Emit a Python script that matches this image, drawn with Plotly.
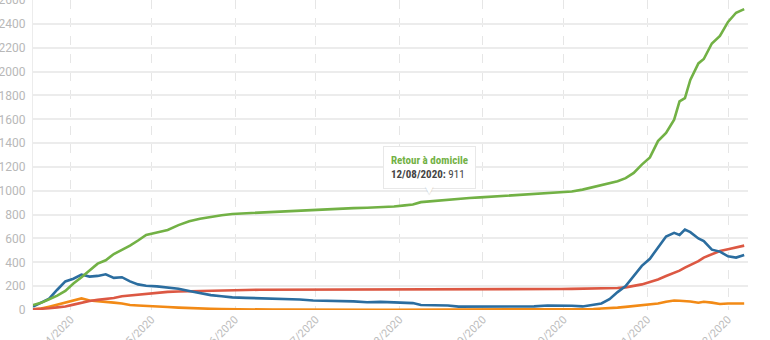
import plotly.graph_objects as go

dates = ["2020-03-18", "2020-03-21", "2020-03-24", "2020-03-27", "2020-03-30",
         "2020-04-02", "2020-04-05", "2020-04-08", "2020-04-11", "2020-04-14",
         "2020-04-17", "2020-04-20", "2020-04-23", "2020-04-26", "2020-04-29",
         "2020-05-03", "2020-05-07", "2020-05-11", "2020-05-15", "2020-05-19",
         "2020-05-23", "2020-05-27", "2020-05-31", "2020-06-05", "2020-06-10",
         "2020-06-15", "2020-06-20", "2020-06-25", "2020-06-30", "2020-07-05",
         "2020-07-10", "2020-07-15", "2020-07-20", "2020-07-25", "2020-07-30",
         "2020-08-03", "2020-08-06", "2020-08-09", "2020-08-12", "2020-08-15",
         "2020-08-19", "2020-08-23", "2020-08-27", "2020-08-31", "2020-09-05",
         "2020-09-10", "2020-09-15", "2020-09-20", "2020-09-25", "2020-09-30",
         "2020-10-04", "2020-10-08", "2020-10-12", "2020-10-15", "2020-10-18",
         "2020-10-21", "2020-10-24", "2020-10-27", "2020-10-30", "2020-11-02",
         "2020-11-05", "2020-11-08", "2020-11-11", "2020-11-13", "2020-11-15",
         "2020-11-17", "2020-11-20", "2020-11-22", "2020-11-25", "2020-11-28",
         "2020-12-01", "2020-12-04", "2020-12-07"]

retour_domicile = [42, 60, 90, 120, 160, 222, 275, 330, 389, 417, 470, 505, 540, 583, 630,
                   650, 672, 712, 745, 765, 783, 795, 806, 812, 818, 822, 826, 832, 840, 845,
                   850, 855, 858, 862, 868, 878, 885, 905, 911, 918, 928, 935, 940, 945, 952,
                   958, 965, 972, 978, 986, 994, 1010, 1030, 1045, 1060, 1080, 1106, 1150, 1220, 1280,
                   1417, 1486, 1597, 1750, 1778, 1931, 2069, 2106, 2236, 2300, 2417, 2494, 2525]

hospitalisations = [28, 60, 95, 170, 240, 262, 297, 280, 286, 300, 270, 275, 240, 215, 203,
                    198, 188, 178, 160, 140, 125, 115, 106, 102, 100, 98, 95, 88, 80, 78,
                    75, 72, 65, 68, 64, 60, 58, 42, 42, 40, 38, 28, 28, 30, 33,
                    28, 28, 30, 38, 40, 36, 30, 45, 55, 90, 150, 200, 290, 370, 430,
                    528, 617, 647, 630, 675, 653, 600, 578, 506, 490, 450, 440, 462]

deces = [5, 8, 15, 22, 30, 45, 62, 75, 85, 92, 100, 115, 122, 132, 139,
         146, 152, 155, 158, 161, 163, 165, 167, 168, 170, 170, 171, 171, 172, 172,
         172, 173, 173, 173, 173, 173, 173, 174, 174, 174, 174, 174, 174, 175, 175,
         175, 175, 175, 175, 176, 177, 178, 179, 180, 182, 185, 190, 200, 215, 235,
         256, 285, 311, 330, 355, 375, 410, 440, 470, 495, 510, 525, 540]

reanimation = [5, 12, 28, 45, 65, 83, 97, 80, 76, 69, 62, 55, 42, 38, 33,
               28, 25, 20, 15, 14, 10, 8, 6, 5, 4, 3, 3, 2, 2, 2,
               2, 2, 2, 2, 2, 2, 2, 2, 2, 2, 2, 2, 2, 2, 2,
               2, 2, 2, 2, 2, 2, 4, 8, 12, 14, 20, 26, 32, 38, 45,
               55, 70, 80, 78, 75, 72, 61, 69, 62, 50, 54, 55, 55]

tick_dates = ["2020-04-01", "2020-05-01", "2020-06-01", "2020-07-01", "2020-08-01",
              "2020-09-01", "2020-10-01", "2020-11-01", "2020-12-01"]
tick_labels = ["01/04/2020", "01/05/2020", "01/06/2020", "01/07/2020", "01/08/2020",
               "01/09/2020", "01/10/2020", "01/11/2020", "01/12/2020"]

series = [
    ("Réanimation", reanimation, "#f28a16"),
    ("Décès", deces, "#dc5843"),
    ("Hospitalisations", hospitalisations, "#2b6d9f"),
    ("Retour à domicile", retour_domicile, "#72b145"),
]

fig = go.Figure()
for name, vals, col in series:
    fig.add_trace(go.Scatter(x=dates, y=vals, mode="lines", name=name,
                             line=dict(color=col, width=2.6)))

# tooltip
idx = dates.index("2020-08-12")
d = dates[idx]
label_date = f"{d[8:10]}/{d[5:7]}/{d[0:4]}"
tip_font = "Roboto Condensed, Liberation Sans Narrow, Roboto"
fig.add_annotation(
    x=d, y=retour_domicile[idx], xref="x", yref="y",
    text=f"<b><span style='color:#72b145'>Retour à domicile</span></b><br><b>{label_date}:</b> {retour_domicile[idx]}",
    showarrow=False, yanchor="bottom", yshift=12, align="left",
    bgcolor="white", bordercolor="#e8e8e8", borderwidth=1, borderpad=7,
    font=dict(family=tip_font, size=11, color="#444"),
)
fig.add_annotation(
    x=d, y=retour_domicile[idx], xref="x", yref="y", text="▼",
    showarrow=False, yanchor="bottom", yshift=3,
    font=dict(family="DejaVu Sans", size=11, color="white",
              shadow="0px 1px 1px rgba(0,0,0,0.15)"),
)

fig.update_layout(
    width=770, height=340,
    margin=dict(l=33, r=22, t=0, b=30),
    paper_bgcolor="white", plot_bgcolor="white",
    showlegend=False,
    font=dict(family="Roboto", color="#b8b8b8"),
)
fig.update_xaxes(
    range=["2020-03-18", "2020-12-08 10:00"],
    tickvals=tick_dates, ticktext=tick_labels, tickangle=-45,
    tickfont=dict(size=11, color="#bdbdbd", family="Roboto"),
    showgrid=True, gridcolor="#e6e6e6", griddash="dash", gridwidth=1,
    showline=False, zeroline=False, automargin=False,
    ticklabeloverflow="allow",
)
fig.update_yaxes(
    range=[0, 2601], dtick=200, tick0=0,
    tickfont=dict(size=12, color="#b8b8b8", family="Roboto"),
    showgrid=True, gridcolor="#ececec", gridwidth=1.5,
    showline=True, linecolor="#ececec", linewidth=1,
    zeroline=False, automargin=False, ticklabelstandoff=4,
    ticklabeloverflow="allow",
)

fig.write_html("out.html")
